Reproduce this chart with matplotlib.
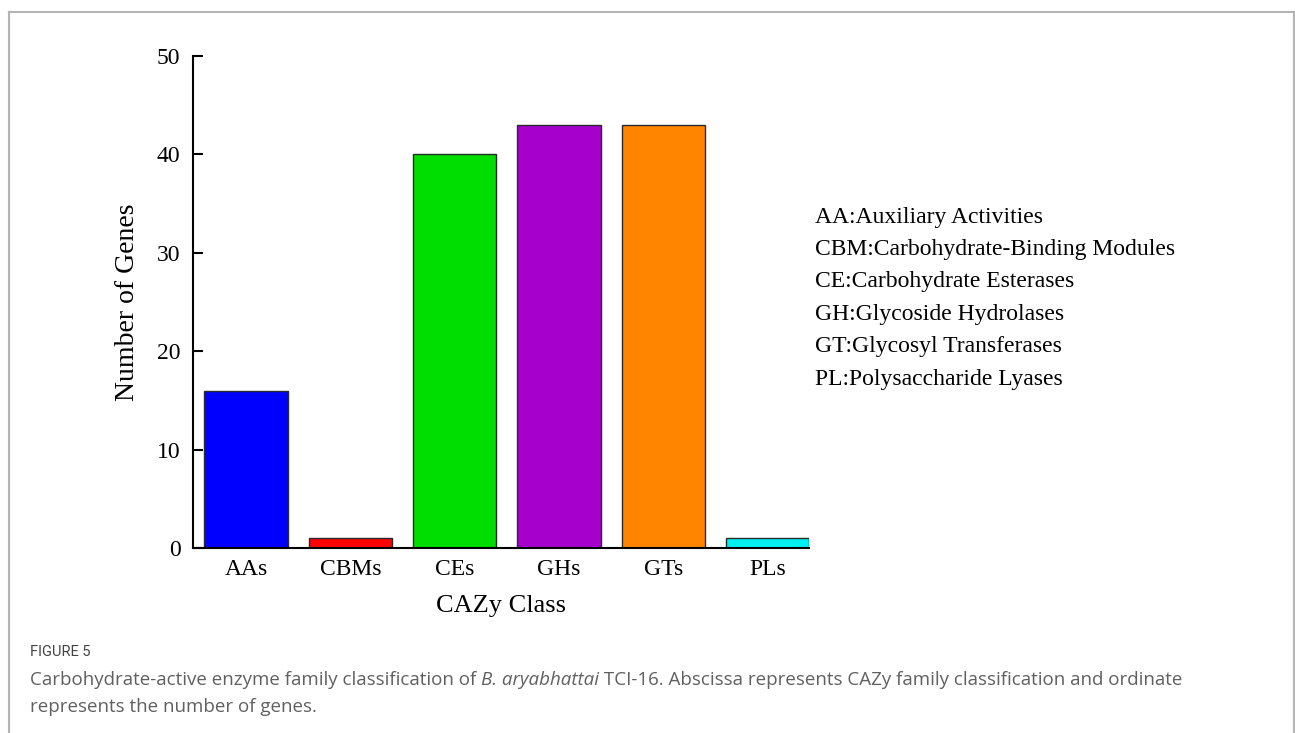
import matplotlib
matplotlib.use('Agg')
import matplotlib.pyplot as plt
from matplotlib.lines import Line2D

plt.rcParams['font.family'] = ['Liberation Serif', 'DejaVu Serif']

width = 12.95
high = 7.33
dpi = 100

classes = ['AAs', 'CBMs', 'CEs', 'GHs', 'GTs', 'PLs']
genes = [16, 1, 40, 43, 43, 1]
colors = ['#0000ff', '#ff0000', '#00dd00', '#a500cc', '#ff8500', '#00f0f0']
yticks = [0, 10, 20, 30, 40, 50]
notes = ['AA:Auxiliary Activities',
         'CBM:Carbohydrate-Binding Modules',
         'CE:Carbohydrate Esterases',
         'GH:Glycoside Hydrolases',
         'GT:Glycosyl Transferases',
         'PL:Polysaccharide Lyases']

fig = plt.figure(figsize=(width, high), dpi=dpi)
ax = fig.add_axes([0.149, 0.2524, 0.476, 0.6712])

x = list(range(len(classes)))
ax.bar(x, genes, width=0.8, color=colors, edgecolor='#2a2a2a', linewidth=1.0)
ax.set_xlim(-0.51, 5.4)
ax.set_ylim(0, 50)
ax.set_yticks(yticks)
ax.set_xticks(x)
ax.set_xticklabels(classes)
ax.tick_params(axis='y', direction='in', length=7, width=1.5, labelsize=17, pad=9)
ax.tick_params(axis='x', length=0, labelsize=17, pad=8)
for s in ['top', 'right']:
    ax.spines[s].set_visible(False)
for s in ['left', 'bottom']:
    ax.spines[s].set_linewidth(1.5)
ax.set_ylabel('Number of Genes', fontsize=20, labelpad=12)
ax.set_xlabel('CAZy Class', fontsize=19, labelpad=11)

# class abbreviations on the right
y0 = 1 - 217 / 733
for i, t in enumerate(notes):
    fig.text(815 / 1295, y0 - i * 32.5 / 733, t, fontsize=17, va='center', ha='left')

# page frame
frame = dict(color='#b4b4b4', linewidth=1.5, transform=fig.transFigure)
fig.add_artist(Line2D([9 / 1295, 1294 / 1295], [1 - 12 / 733] * 2, **frame))
fig.add_artist(Line2D([9 / 1295] * 2, [0, 1 - 12 / 733], **frame))
fig.add_artist(Line2D([1294 / 1295] * 2, [0, 1 - 12 / 733], **frame))

# caption
cap = dict(family=['Open Sans', 'DejaVu Sans'], color='#606060')
fig.text(30 / 1295, 1 - 652 / 733, 'FIGURE 5', fontsize=10.5, va='center',
         family=['Roboto', 'DejaVu Sans'], color='#444444')
t1 = fig.text(30 / 1295, 1 - 680 / 733,
              'Carbohydrate-active enzyme family classification of ',
              fontsize=13.5, va='center', **cap)
t2 = ax.annotate('B. aryabhattai', xy=(1, 0.5), xycoords=t1, va='center',
                 fontsize=13.5, style='italic', **cap)
ax.annotate(' TCI-16. Abscissa represents CAZy family classification and ordinate',
            xy=(1, 0.5), xycoords=t2, va='center', fontsize=13.5, **cap)
fig.text(30 / 1295, 1 - 707 / 733, 'represents the number of genes.',
         fontsize=13.5, va='center', **cap)

plt.savefig('out.png', dpi=dpi)
plt.close()
